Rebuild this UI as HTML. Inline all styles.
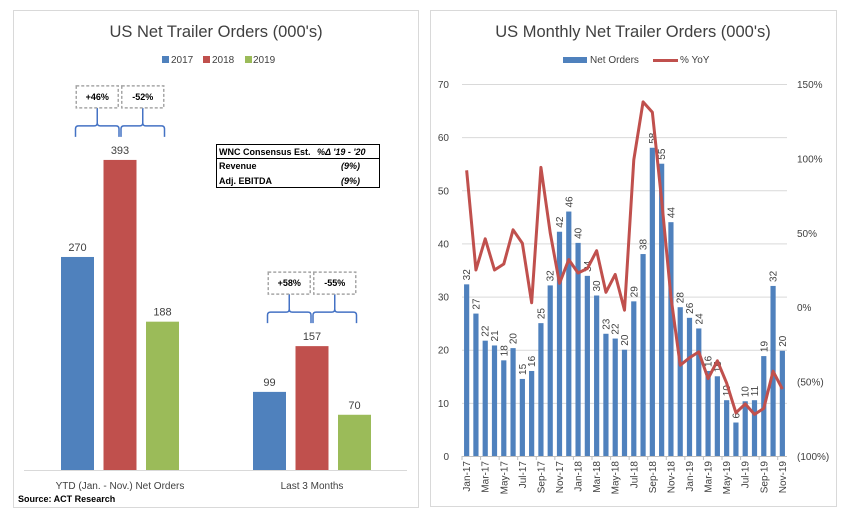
<!DOCTYPE html>
<html><head><meta charset="utf-8">
<style>
body{margin:0;background:#fff;width:845px;height:515px;overflow:hidden;font-family:"Liberation Sans",sans-serif;}
svg{display:block}
text{font-family:"Liberation Sans",sans-serif;fill:#404040}
</style></head>
<body>
<svg id="c" width="845" height="515">
<rect x="13.5" y="10.5" width="405" height="497" fill="#fff" stroke="#d9d9d9"/>
<rect x="430.5" y="10.5" width="406" height="496" fill="#fff" stroke="#d9d9d9"/>
<text x="216" y="37" font-size="16.5" text-anchor="middle">US Net Trailer Orders (000's)</text>
<text x="633" y="37" font-size="16.5" text-anchor="middle">US Monthly Net Trailer Orders (000's)</text>
<g id="leftLegend">
<rect x="162" y="56" width="7" height="7" fill="#4f81bd"/><text x="171" y="63" font-size="10">2017</text>
<rect x="203" y="56" width="7" height="7" fill="#c0504d"/><text x="212" y="63" font-size="10">2018</text>
<rect x="245" y="56" width="7" height="7" fill="#9bbb59"/><text x="253" y="63" font-size="10">2019</text>
</g>
<g>
<rect x="563" y="57" width="24" height="6" fill="#4f81bd"/><text x="590" y="63" font-size="10">Net Orders</text>
<line x1="653" y1="60.5" x2="678" y2="60.5" stroke="#c0504d" stroke-width="3"/><text x="680" y="63" font-size="10">% YoY</text>
</g>
<g>
<rect x="216.5" y="144.5" width="163" height="43" fill="#fff" stroke="#000"/>
<line x1="216.5" y1="158.5" x2="379.5" y2="158.5" stroke="#000"/>
<text x="219" y="155" font-size="9" font-weight="bold" style="fill:#000">WNC Consensus Est.</text>
<text x="317" y="155" font-size="9" font-weight="bold" font-style="italic" style="fill:#000">%Δ '19 - '20</text>
<text x="219" y="169" font-size="9" font-weight="bold" style="fill:#000">Revenue</text>
<text x="341" y="169" font-size="9" font-weight="bold" font-style="italic" style="fill:#000">(9%)</text>
<text x="219" y="184" font-size="9" font-weight="bold" style="fill:#000">Adj. EBITDA</text>
<text x="341" y="184" font-size="9" font-weight="bold" font-style="italic" style="fill:#000">(9%)</text>
</g>
<text x="18" y="502" font-size="9" font-weight="bold" style="fill:#000">Source: ACT Research</text>
<g id="left"></g>
<g id="right"></g>
</svg>
<script>
const groups=["YTD (Jan. - Nov.) Net Orders","Last 3 Months"];
const years=["2017","2018","2019"];
const v2017=[270,99];
const v2018=[393,157];
const v2019=[188,70];
const changes=[["+46%","-52%"],["+58%","-55%"]];

const months=["Jan-17","Feb-17","Mar-17","Apr-17","May-17","Jun-17","Jul-17","Aug-17","Sep-17","Oct-17","Nov-17","Dec-17","Jan-18","Feb-18","Mar-18","Apr-18","May-18","Jun-18","Jul-18","Aug-18","Sep-18","Oct-18","Nov-18","Dec-18","Jan-19","Feb-19","Mar-19","Apr-19","May-19","Jun-19","Jul-19","Aug-19","Sep-19","Oct-19","Nov-19"];
const netOrders=[32.3,26.8,21.7,20.8,18,20.3,14.5,16,25,32.1,42.2,46,40.1,33.9,30.2,23,22.1,20,29.1,38,58,55,44,28,26,24,16,15,10.5,6.3,10.3,10.5,18.8,32,19.8];
const orderLabels=["32","27","22","21","18","20","15","16","25","32","42","46","40","34","30","23","22","20","29","38","58","55","44","28","26","24","16","15","10","6","10","11","19","32","20"];
const yoy=[92,25,46,25,29,52,43,3,94,50,16,32,23,26,38,10,22,-2,99,138,131,72,7,-39,-34,-30,-48,-36,-51,-71,-65,-72,-68,-43,-55];
const leftTicks=[0,10,20,30,40,50,60,70];
const rightTicks=[150,100,50,0,-50,-100];
const rightTickLabels=["150%","100%","50%","0%","(50%)","(100%)"];

const NS="http://www.w3.org/2000/svg";
function mk(tag,attrs,parent){const e=document.createElementNS(NS,tag);for(const k in attrs)e.setAttribute(k,attrs[k]);parent.appendChild(e);return e;}
const L=document.getElementById('left'),R=document.getElementById('right');

// Left chart
const base=470, yL=v=>base-v*0.789;
const groupStart=[61,253], colors=["#4f81bd","#c0504d","#9bbb59"], series=[v2017,v2018,v2019];
const ax=mk('line',{x1:24,y1:470.5,x2:407,y2:470.5,stroke:'#d9d9d9'},L);


groups.forEach((g,gi)=>{
  const centers=[];
  series.forEach((s,si)=>{
    const x=groupStart[gi]+si*42.5;
    centers.push(x+16.5);
    const r=mk('rect',{x:x,y:yL(s[gi]),width:33,height:base-yL(s[gi]),fill:colors[si]},L);
    
    
    const t=mk('text',{x:x+16.5,y:yL(s[gi])-6,'font-size':11,'text-anchor':'middle'},L);t.textContent=s[gi];
    
    
  });
  const gl=mk('text',{x:centers[1],y:489,'font-size':10,'text-anchor':'middle'},L);gl.textContent=g;
  
  
  const tipY=yL(v2018[gi])-23, hY=tipY-11, stemTop=tipY-29;
  [[centers[0]-2,centers[1]-1],[centers[1]+1,centers[2]+2]].forEach((p,pi)=>{
    const m=(p[0]+p[1])/2;
    const b=mk('path',{d:`M${p[0]},${tipY} V${hY+3} q0,-3 3,-3 H${m-3} q3,0 3,-3 V${stemTop} M${m},${hY-3} q0,3 3,3 H${p[1]-3} q3,0 3,3 V${tipY}`,fill:'none',stroke:'#4472c4','stroke-width':1.5},L);
    
    
    const bx=mk('rect',{x:m-21,y:stemTop-22,width:42,height:22,fill:'#fff',stroke:'#a6a6a6','stroke-width':1.5,'stroke-dasharray':'3,2'},L);
    
    
    const ct=mk('text',{x:m,y:stemTop-8,'font-size':9,'font-weight':'bold','text-anchor':'middle',style:'fill:#000'},L);ct.textContent=changes[gi][pi];
    
    
  });
});

// Right chart
const x0=462,x1=787,y0=456,pxPer=(456-84)/70;
const yR=v=>y0-v*pxPer, yP=p=>307.2-p*74.4/50;
const slot=(x1-x0)/months.length, cxR=i=>x0+(i+0.5)*slot;
leftTicks.forEach(t=>{
  if(t>0){const gl=mk('line',{x1:x0,x2:x1,y1:yR(t)+0.5,y2:yR(t)+0.5,stroke:'#d9d9d9'},R);
  
  }
  const tl=mk('text',{x:449,y:yR(t)+4,'font-size':10,'text-anchor':'end'},R);tl.textContent=t;
  
  
});
rightTicks.forEach((t,i)=>{
  const tl=mk('text',{x:797,y:yP(t)+4,'font-size':10},R);tl.textContent=rightTickLabels[i];
  
  
});
const xa=mk('line',{x1:x0,x2:x1,y1:y0+0.5,y2:y0+0.5,stroke:'#bfbfbf'},R);


months.forEach((m,i)=>{
  const b=mk('rect',{x:cxR(i)-2.6,y:yR(netOrders[i]),width:5.2,height:y0-yR(netOrders[i]),fill:'#4f81bd'},R);
  
  
  const lx=cxR(i)+3.5,ly=yR(netOrders[i])-4;
  const t=mk('text',{x:lx,y:ly,'font-size':10,transform:`rotate(-90 ${lx} ${ly})`},R);t.textContent=orderLabels[i];
  
  
  if(i%2===0){
    const tk=mk('line',{x1:x0+i*slot,x2:x0+i*slot,y1:y0,y2:y0+4,stroke:'#bfbfbf'},R);
    
    
    const tx=cxR(i)+3.5,ty=y0+5;
    const xl=mk('text',{x:tx,y:ty,'font-size':10,'text-anchor':'end',transform:`rotate(-90 ${tx} ${ty})`},R);xl.textContent=m;
    
    
  }
});
const ln=mk('polyline',{points:yoy.map((p,i)=>cxR(i)+','+yP(p)).join(' '),fill:'none',stroke:'#c0504d','stroke-width':3,'stroke-linejoin':'round'},R);


</script>
</body></html>
